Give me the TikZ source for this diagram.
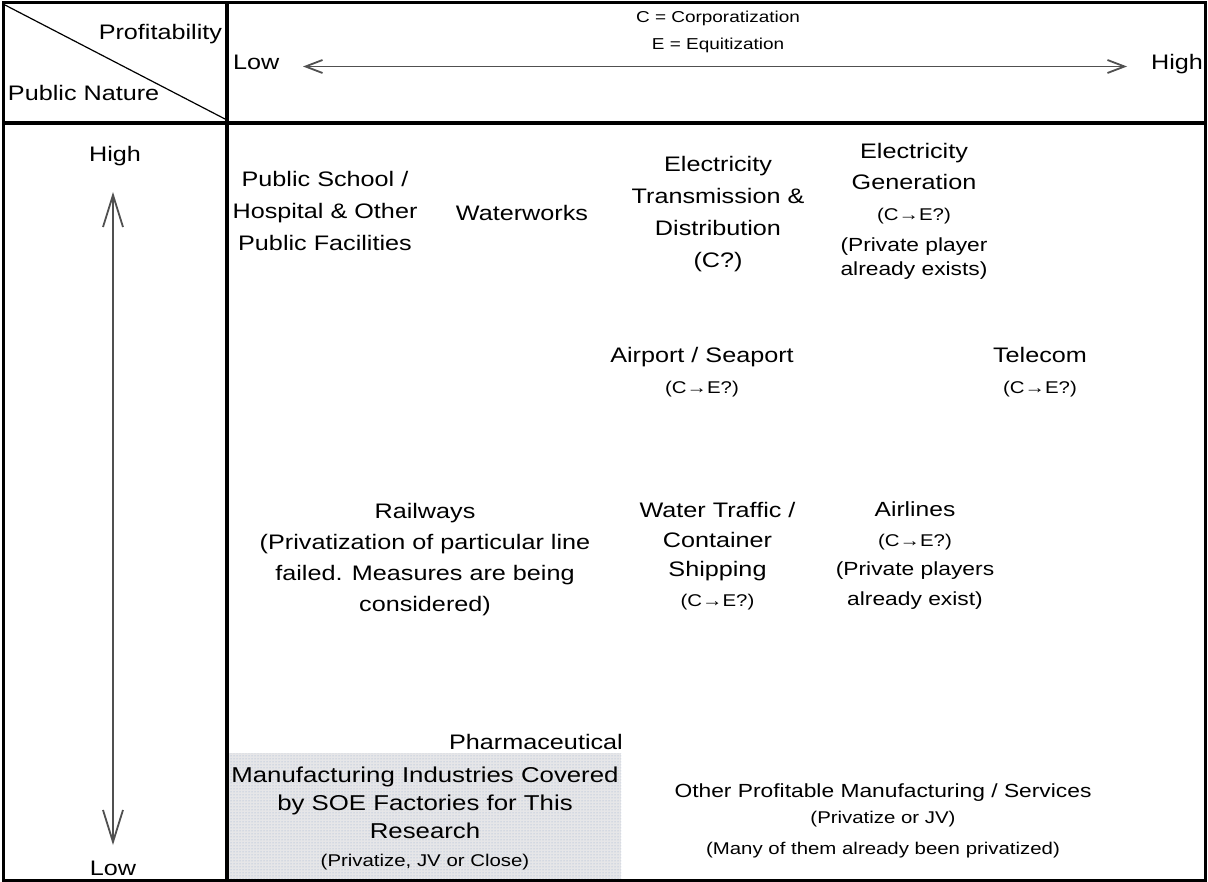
\documentclass[tikz,border=0pt]{standalone}
\usepackage{fontspec}
\setmainfont{Liberation Sans}[FakeStretch=1.2]
\usetikzlibrary{arrows.meta,patterns}
\newcommand\sz[2]{\fontsize{#1}{#2}\selectfont}
\definecolor{axisgray}{RGB}{80,80,80}
\definecolor{shadefill}{RGB}{230,230,232}
\definecolor{shadedot}{RGB}{150,170,205}
\begin{document}
\begin{tikzpicture}[x=1pt,y=-1pt,
  lbl/.style={inner sep=0pt, outer sep=0pt, align=center, anchor=base, font=\sz{21}{32}},
  framebox/.style={line width=3pt},
  divider/.style={line width=3.5pt},
  diag/.style={line width=1.2pt},
  harrow/.style={draw=axisgray, line width=1.8pt, {Straight Barb[length=17pt,width=13pt]}-{Straight Barb[length=17pt,width=13pt]}},
  varrow/.style={draw=axisgray, line width=1.8pt, {Straight Barb[length=32pt,width=20pt]}-{Straight Barb[length=32pt,width=20pt]}},
]
\useasboundingbox (0,0) rectangle (1208,882);

% shaded region
\path[fill=shadefill] (229,753) rectangle (621,879);
\path[pattern=dots, pattern color=shadedot] (229,753) rectangle (621,879);

% frame and dividers
\coordinate (tl) at (3.5,3);
\coordinate (br) at (1205.8,880);
\coordinate (vtop) at (227,3);
\coordinate (vbot) at (227,880);
\coordinate (hleft) at (3.5,123);
\coordinate (hright) at (1205.8,123);
\coordinate (dstart) at (5,5);
\coordinate (dend) at (225,119);
\draw[framebox] (tl) rectangle (br);
\draw[divider] (vtop) -- (vbot);
\draw[divider] (hleft) -- (hright);
\draw[diag] (dstart) -- (dend);

% header labels (anchor base = baseline of the last line)
\node[lbl, anchor=base east] (profit) at (222,40) {Profitability};
\node[lbl, anchor=base west] (pubnat) at (8,101) {Public Nature};
\node[lbl, anchor=base west] (lowx) at (233,70) {Low};
\node[lbl, anchor=base east] (highx) at (1203,70) {High};
\node[lbl, font=\sz{15.8}{27}] (legend) at (718,50) {C = Corporatization\\E = Equitization};

% axes
\coordinate (hL) at (303,66.5);
\coordinate (hR) at (1127,66.5);
\draw[harrow] (hL) -- (hR);
\node[lbl] (highy) at (115,162) {High};
\node[lbl] (lowy) at (113,875) {Low};
\coordinate (vT) at (113,192);
\coordinate (vB) at (113,845);
\draw[varrow] (vT) -- (vB);

% items
\node[lbl] (pubschool) at (325,251) {Public School /\\Hospital \& Other\\Public Facilities};
\node[lbl] (waterworks) at (522,221) {Waterworks};
\node[lbl] (elecTD) at (718,268) {Electricity\\Transmission \&\\Distribution\\(C?)};
\node[lbl, font=\sz{21}{31}] (elecGen) at (914,276) {Electricity\\Generation\\\sz{17}{31}(C→E?)\\\sz{19}{31}(Private player\\[-7pt]\sz{19}{31}already exists)};
\node[lbl, font=\sz{21}{31}] (airport) at (702,394) {Airport / Seaport\\\sz{17}{31}(C→E?)};
\node[lbl, font=\sz{21}{31}] (telecom) at (1040,394) {Telecom\\\sz{17}{31}(C→E?)};
\node[lbl, font=\sz{21}{31}] (railways) at (425,611) {Railways\\(Privatization of particular line\\failed. Measures are being\\considered)};
\node[lbl, font=\sz{21}{29.5}] (water) at (717.5,606) {Water Traffic /\\Container\\Shipping\\\sz{17}{29.5}(C→E?)};
\node[lbl, font=\sz{20.5}{29.5}] (airlines) at (915,605) {Airlines\\\sz{17}{29.5}(C→E?)\\\sz{19}{29.5}(Private players\\\sz{19}{29.5}already exist)};
\node[lbl] (pharma) at (536,749) {Pharmaceutical};
\node[lbl, font=\sz{19}{28.5}] (other) at (883,854) {Other Profitable Manufacturing / Services\\[-2.5pt]\sz{17}{28.5}(Privatize or JV)\\[2.5pt]\sz{17}{28.5}(Many of them already been privatized)};
\node[lbl, font=\sz{21.5}{28}] (manuf) at (425,866) {Manufacturing Industries Covered\\by SOE Factories for This\\Research\\\sz{17}{28}(Privatize, JV or Close)};
\end{tikzpicture}
\end{document}
